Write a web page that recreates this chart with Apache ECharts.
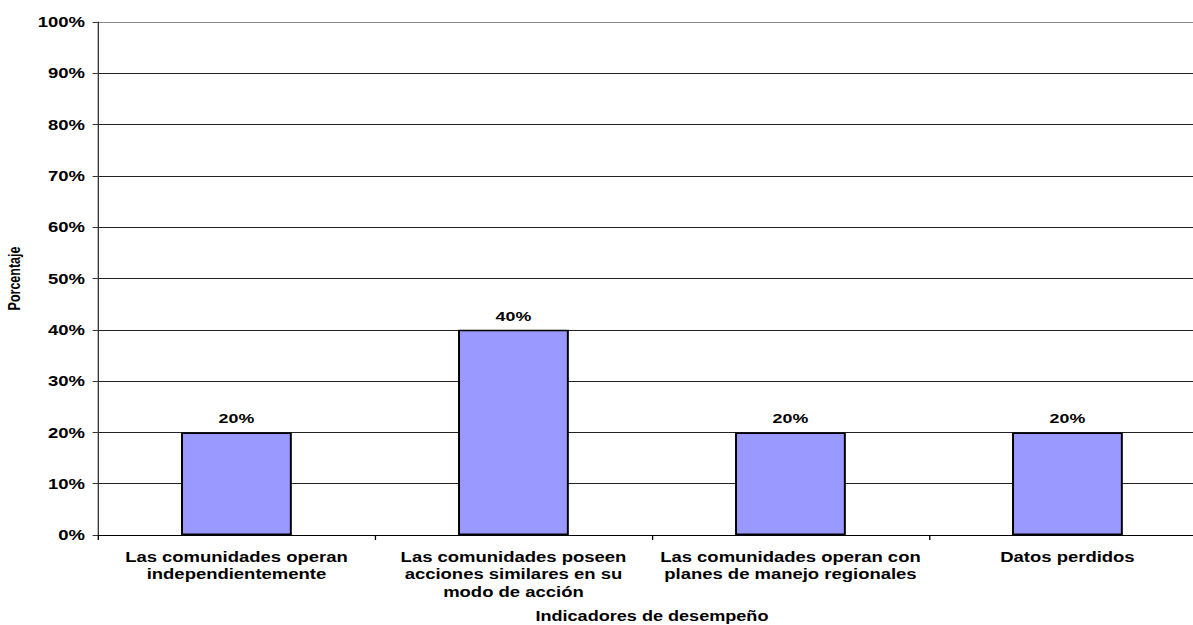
<!DOCTYPE html>
<html><head><meta charset="utf-8">
<script src="https://cdn.jsdelivr.net/npm/echarts@6/dist/echarts.min.js"></script>
<style>
html,body{margin:0;padding:0;background:#fff;overflow:hidden}
#wrap{width:1193px;height:625px;overflow:hidden}
/* the reference image is horizontally stretched (~1.32x); reproduce by scaling the chart */
#c{width:904px;height:625px;transform:scaleX(1.3197);transform-origin:0 0}
</style>
</head><body><div id="wrap"><div id="c"></div></div>
<script>
const categories = [
  "Las comunidades operan\nindependientemente",
  "Las comunidades poseen\nacciones similares en su\nmodo de acción",
  "Las comunidades operan con\nplanes de manejo regionales",
  "Datos perdidos"
];
const values = [20, 40, 20, 20];
const yTicks = [0, 10, 20, 30, 40, 50, 60, 70, 80, 90, 100];

const font = "'Liberation Sans', Arial, Helvetica, sans-serif";
const gridColors = yTicks.map((t, i) => i === yTicks.length - 1 ? '#8a8a8a' : '#222');
const chart = echarts.init(document.getElementById('c'), null, { renderer: 'svg' });
chart.setOption({
  animation: false,
  grid: { left: 74.2, top: 22, width: 839.6, bottom: 90, containLabel: false, outerBoundsMode: 'none' },
  xAxis: {
    type: 'category',
    data: categories,
    name: 'Indicadores de desempeño',
    nameLocation: 'middle',
    nameGap: 74,
    nameTextStyle: { fontFamily: font, fontWeight: 'bold', fontSize: 13.7, color: '#000' },
    axisLine: { lineStyle: { color: '#000', width: 1 } },
    axisTick: { show: true, alignWithLabel: false, length: 5, lineStyle: { color: '#000' } },
    axisLabel: { interval: 0, fontFamily: font, fontWeight: 'bold', fontSize: 14, color: '#000', lineHeight: 17.8, margin: 12.5 }
  },
  yAxis: {
    type: 'value',
    min: yTicks[0], max: yTicks[yTicks.length - 1], interval: 10,
    name: 'Porcentaje',
    nameLocation: 'middle',
    nameGap: 57,
    nameTextStyle: { fontFamily: font, fontWeight: 'bold', fontSize: 12.5, color: '#000' },
    axisLine: { show: true, lineStyle: { color: '#333', width: 1 } },
    axisTick: { show: true, length: 4, lineStyle: { color: '#333' } },
    splitLine: { lineStyle: { color: gridColors, width: 1 } },
    axisLabel: { formatter: '{value}%', fontFamily: font, fontWeight: 'bold', fontSize: 14, color: '#000', margin: 9.8 }
  },
  series: [{
    type: 'bar',
    data: values,
    barWidth: '40%',
    itemStyle: { color: '#9999FF', borderColor: '#000', borderWidth: 1.5 },
    label: { show: true, position: 'top', formatter: '{c}%', fontFamily: font, fontWeight: 'bold', fontSize: 13.5, color: '#000', distance: 7 }
  }]
});
</script></body></html>
